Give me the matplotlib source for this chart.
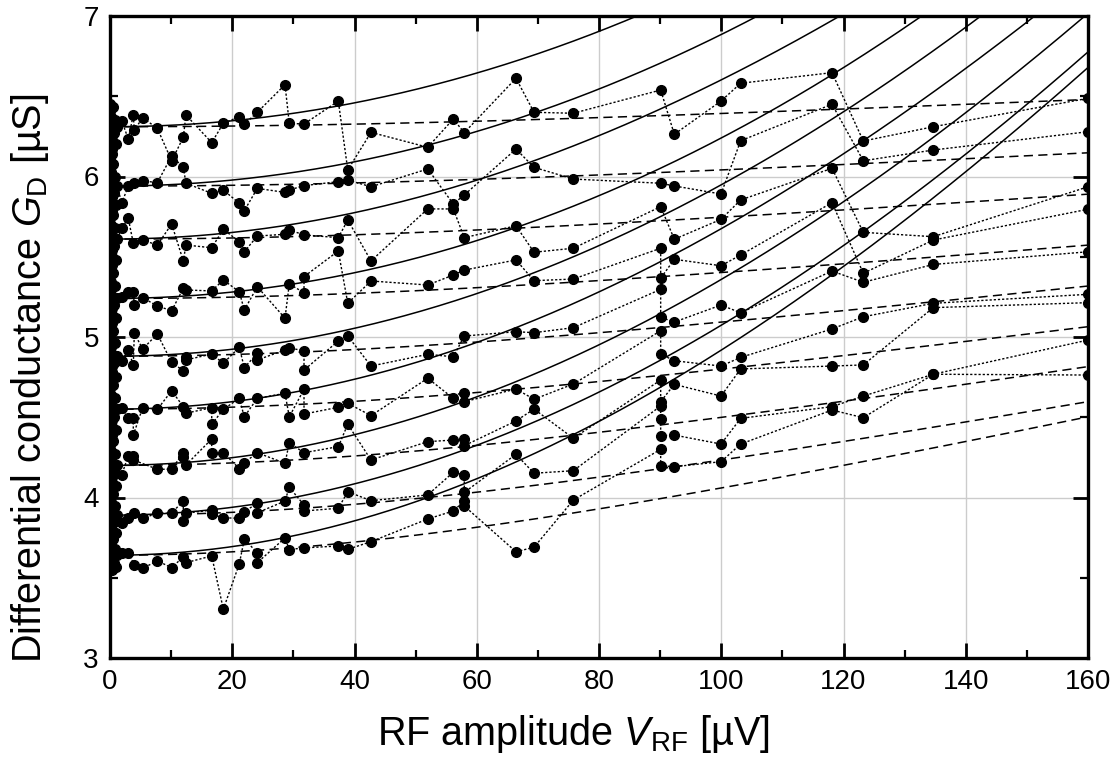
import numpy as np
import matplotlib
matplotlib.use("Agg")
import matplotlib.pyplot as plt
from matplotlib.ticker import MultipleLocator

plt.rcParams['font.family'] = ['Liberation Sans', 'DejaVu Sans']
plt.rcParams['mathtext.fontset'] = 'custom'
plt.rcParams['mathtext.rm'] = 'Liberation Sans'
plt.rcParams['mathtext.it'] = 'Liberation Sans:italic'

# ---------------- data ----------------
x_cluster = [0.0, 0.05, 0.1, 0.15, 0.2, 0.25, 0.3, 0.35, 0.4, 0.5, 0.6, 0.8, 1.0, 1.2]

s1_x = [1.91, 2.99, 3.81, 3.98, 5.35, 7.74, 10.09, 11.99, 12.43, 16.64, 18.54, 21.15, 21.97, 24.10, 28.63, 29.33, 31.74, 37.35, 38.9, 42.70, 51.98, 56.16, 57.96, 66.42, 69.37, 75.80, 90.09, 92.32, 99.96, 103.18, 118.12, 123.24, 134.69, 160]
s1_y = [6.348, 6.234, 6.383, 6.290, 6.366, 6.300, 6.098, 6.244, 6.383, 6.211, 6.331, 6.373, 6.325, 6.400, 6.572, 6.331, 6.327, 6.470, 6.041, 6.275, 6.182, 6.358, 6.273, 6.612, 6.400, 6.394, 6.539, 6.263, 6.470, 6.581, 6.647, 6.221, 6.310, 6.487]
s1_c = [6.45, 6.41, 6.37, 6.33, 6.29, 6.25, 6.21, 6.17, 6.14, 6.43, 6.27, 6.35, 6.20, 6.31]

s2_x = [1.91, 2.99, 3.98, 5.35, 7.74, 10.09, 11.99, 12.43, 16.64, 18.54, 21.15, 21.97, 24.10, 28.63, 29.33, 31.74, 37.35, 38.9, 42.70, 51.98, 56.16, 57.96, 66.42, 69.37, 75.80, 90.09, 92.32, 99.96, 103.18, 118.12, 123.24, 134.69, 160]
s2_y = [5.833, 5.941, 5.961, 5.974, 5.961, 6.128, 6.057, 5.958, 5.895, 5.916, 5.833, 5.787, 5.926, 5.901, 5.916, 5.943, 5.968, 5.978, 5.936, 6.047, 5.829, 5.885, 6.171, 6.057, 5.984, 5.958, 5.941, 5.891, 6.223, 6.450, 6.098, 6.165, 6.279]
s2_c = [6.11, 6.07, 6.03, 5.99, 5.95, 5.91, 5.87, 5.83, 5.79, 6.08, 5.90, 6.00, 5.82, 5.94]

s3_x = [1.91, 2.99, 3.81, 5.35, 7.74, 10.09, 11.99, 12.43, 16.64, 18.54, 21.15, 21.97, 24.10, 28.63, 29.33, 31.74, 37.35, 38.9, 42.70, 51.98, 56.16, 57.96, 66.42, 69.37, 75.80, 90.09, 92.32, 99.96, 103.18, 118.12, 123.24, 134.69, 160]
s3_y = [5.677, 5.740, 5.584, 5.604, 5.573, 5.704, 5.474, 5.573, 5.556, 5.671, 5.594, 5.531, 5.629, 5.640, 5.667, 5.636, 5.619, 5.729, 5.474, 5.798, 5.798, 5.619, 5.693, 5.528, 5.553, 5.812, 5.609, 5.733, 5.854, 6.051, 5.652, 5.625, 5.936]
s3_c = [5.78, 5.74, 5.70, 5.66, 5.62, 5.58, 5.54, 5.50, 5.45, 5.76, 5.57, 5.68, 5.48, 5.61]

s4_x = [1.91, 2.99, 3.81, 3.98, 5.35, 7.74, 10.09, 11.99, 12.43, 16.64, 18.54, 21.15, 21.97, 24.10, 28.63, 29.33, 31.74, 31.74, 37.35, 38.9, 42.70, 51.98, 56.16, 57.96, 66.42, 69.37, 75.80, 90.09, 90.09, 92.32, 99.96, 103.18, 118.12, 123.24, 134.69, 160]
s4_y = [5.251, 5.279, 5.279, 5.199, 5.245, 5.193, 5.164, 5.303, 5.293, 5.287, 5.355, 5.282, 5.168, 5.313, 5.117, 5.330, 5.276, 5.376, 5.536, 5.210, 5.349, 5.324, 5.386, 5.417, 5.480, 5.351, 5.361, 5.553, 5.366, 5.484, 5.444, 5.511, 5.837, 5.397, 5.604, 5.796]
s4_c = [5.42, 5.38, 5.34, 5.30, 5.26, 5.22, 5.18, 5.14, 5.09, 5.40, 5.20, 5.32, 5.12, 5.24]

s5_x = [1.91, 2.99, 3.81, 3.98, 5.35, 7.74, 10.09, 11.99, 12.43, 12.43, 16.64, 18.54, 21.15, 21.97, 24.10, 24.10, 28.63, 29.33, 31.74, 31.74, 37.35, 38.9, 42.70, 51.98, 56.16, 57.96, 66.42, 69.37, 75.80, 90.09, 90.09, 92.32, 99.96, 103.18, 118.12, 123.24, 134.69, 160]
s5_y = [4.850, 4.919, 4.826, 5.023, 4.925, 5.019, 4.842, 4.790, 4.877, 4.857, 4.894, 4.836, 4.936, 4.809, 4.898, 4.857, 4.919, 4.933, 4.913, 4.794, 4.975, 5.006, 4.819, 4.892, 4.877, 5.006, 5.033, 5.027, 5.058, 5.297, 5.123, 5.093, 5.199, 5.151, 5.411, 5.341, 5.452, 5.531]
s5_c = [5.06, 5.02, 4.98, 4.94, 4.90, 4.86, 4.82, 4.78, 4.73, 5.04, 4.84, 4.96, 4.75, 4.88]

s6_x = [1.91, 2.99, 3.81, 3.81, 5.35, 7.74, 10.09, 11.99, 12.43, 16.64, 16.64, 18.54, 21.15, 21.97, 24.10, 28.63, 29.33, 31.74, 31.74, 37.35, 38.9, 42.70, 51.98, 56.16, 57.96, 57.96, 66.42, 69.37, 75.80, 90.09, 90.09, 92.32, 99.96, 103.18, 118.12, 123.24, 134.69, 160]
s6_y = [4.560, 4.493, 4.493, 4.389, 4.560, 4.549, 4.665, 4.566, 4.525, 4.560, 4.456, 4.549, 4.618, 4.503, 4.618, 4.649, 4.503, 4.674, 4.520, 4.562, 4.587, 4.510, 4.743, 4.618, 4.649, 4.597, 4.676, 4.612, 4.707, 5.039, 4.894, 4.852, 4.819, 4.873, 5.050, 5.126, 5.210, 5.266]
s6_c = [4.72, 4.68, 4.64, 4.60, 4.56, 4.52, 4.48, 4.44, 4.39, 4.70, 4.50, 4.62, 4.42, 4.55]

s7_x = [1.91, 2.99, 3.81, 3.81, 7.74, 10.09, 11.99, 11.99, 12.43, 16.64, 16.64, 18.54, 21.15, 21.97, 24.10, 28.63, 29.33, 31.74, 37.35, 38.9, 42.70, 51.98, 56.16, 57.96, 57.96, 66.42, 69.37, 75.80, 90.09, 90.09, 92.32, 99.96, 103.18, 118.12, 123.24, 134.69, 160]
s7_y = [4.140, 4.260, 4.260, 4.234, 4.176, 4.176, 4.279, 4.254, 4.203, 4.364, 4.275, 4.279, 4.180, 4.217, 4.279, 4.213, 4.341, 4.279, 4.317, 4.456, 4.234, 4.348, 4.358, 4.364, 4.323, 4.477, 4.551, 4.369, 4.732, 4.597, 4.705, 4.632, 4.801, 4.819, 4.826, 5.183, 5.214]
s7_c = [4.37, 4.33, 4.29, 4.25, 4.21, 4.17, 4.13, 4.09, 4.05, 4.35, 4.15, 4.27, 4.07, 4.20]

s8_x = [1.91, 2.99, 3.98, 5.35, 7.74, 10.09, 11.99, 11.99, 12.43, 16.64, 16.64, 18.54, 21.15, 21.97, 24.10, 24.10, 28.63, 29.33, 31.74, 31.74, 37.35, 38.9, 42.70, 51.98, 56.16, 57.96, 57.96, 66.42, 69.37, 75.80, 90.09, 90.09, 90.09, 92.32, 99.96, 103.18, 118.12, 123.24, 134.69, 160]
s8_y = [3.843, 3.870, 3.905, 3.870, 3.902, 3.902, 3.980, 3.853, 3.902, 3.922, 3.895, 3.874, 3.870, 3.912, 3.964, 3.905, 3.978, 4.064, 3.953, 3.916, 3.933, 4.036, 3.980, 4.016, 4.157, 4.140, 4.032, 4.269, 4.151, 4.167, 4.570, 4.487, 4.385, 4.389, 4.333, 4.493, 4.566, 4.632, 4.768, 4.981]
s8_c = [4.03, 4.00, 3.97, 3.94, 3.90, 3.87, 3.84, 3.80, 3.77, 4.02, 3.85, 3.95, 3.78, 3.89]

s9_x = [1.91, 2.99, 3.98, 5.35, 7.74, 10.09, 11.99, 12.43, 16.64, 18.54, 21.15, 21.97, 24.10, 24.10, 28.63, 29.33, 31.74, 37.35, 38.9, 42.70, 51.98, 56.16, 57.96, 57.96, 66.42, 69.37, 75.80, 90.09, 90.09, 92.32, 99.96, 103.18, 118.12, 123.24, 134.69, 160]
s9_y = [3.652, 3.656, 3.579, 3.558, 3.606, 3.562, 3.631, 3.594, 3.636, 3.304, 3.586, 3.740, 3.656, 3.594, 3.748, 3.676, 3.686, 3.698, 3.677, 3.725, 3.866, 3.916, 3.978, 3.947, 3.662, 3.690, 3.984, 4.300, 4.198, 4.192, 4.223, 4.333, 4.545, 4.497, 4.768, 4.763]
s9_c = [3.75, 3.72, 3.69, 3.66, 3.63, 3.60, 3.58, 3.56, 3.55, 3.74, 3.59, 3.68, 3.57, 3.64]

# fit curves: G = G0 + A*(sqrt(1+(V/V0)^2)-1)
fit_g0 = [6.31, 5.94, 5.61, 5.24, 4.88, 4.55, 4.20, 3.89, 3.64]
solid_a = [186.0, 189.4, 10.97, 200.5, 22.4, 12.44, 15.04, 16.57, 10.83]
solid_v0 = [1000, 1000, 230, 1000, 320, 230, 250, 260, 200]
dash_a = [0.1375, 0.168, 0.2265, 0.269, 0.354, 0.416, 0.498, 0.572, 0.698]
dash_v0 = [80, 80, 80, 80, 80, 80, 80, 80, 80]

x_ticks = [0, 20, 40, 60, 80, 100, 120, 140, 160]
y_ticks = [3, 4, 5, 6, 7]

series = [(s1_x, s1_y, s1_c), (s2_x, s2_y, s2_c), (s3_x, s3_y, s3_c),
          (s4_x, s4_y, s4_c), (s5_x, s5_y, s5_c), (s6_x, s6_y, s6_c),
          (s7_x, s7_y, s7_c), (s8_x, s8_y, s8_c), (s9_x, s9_y, s9_c)]

# ---------------- figure ----------------
fig = plt.figure(figsize=(11.13, 7.70), dpi=100)
ax = fig.add_axes([110/1113, 1-658/770, (1088-110)/1113, (658-16)/770])

vv = np.linspace(0, 160, 400)
for g0, a, v0 in zip(fit_g0, solid_a, solid_v0):
    ax.plot(vv, g0 + a*(np.sqrt(1+(vv/v0)**2)-1), color='black', lw=1.1, zorder=3)
for g0, a, v0 in zip(fit_g0, dash_a, dash_v0):
    ax.plot(vv, g0 + a*(np.sqrt(1+(vv/v0)**2)-1), color='black', lw=1.1,
            linestyle=(0, (6, 3.5)), zorder=3)

for sx, sy, sc in series:
    xs = list(x_cluster) + list(sx)
    ys = list(sc) + list(sy)
    ax.plot(xs, ys, color='black', lw=1.0, linestyle=(0, (1.6, 1.4)),
            marker='o', ms=7.0, mfc='black', mec='black', zorder=4, clip_on=True)

ax.set_xlim(0, 160)
ax.set_ylim(3, 7)
ax.set_xticks(x_ticks)
ax.set_yticks(y_ticks)
ax.xaxis.set_minor_locator(MultipleLocator(10))
ax.yaxis.set_minor_locator(MultipleLocator(0.5))
ax.grid(True, which='major', color='#cccccc', lw=1.0, zorder=0)
ax.set_axisbelow(True)
ax.tick_params(which='both', direction='in', top=True, right=True,
               labelsize=20, width=2.0, pad=8)
ax.tick_params(which='major', length=11)
ax.tick_params(which='minor', length=6, width=1.6)
for sp in ax.spines.values():
    sp.set_linewidth(2.4)
    sp.set_zorder(6)

ax.set_xlabel(r'RF amplitude $V_{\mathrm{RF}}$ [µV]', fontsize=28.5)
ax.set_ylabel(r'Differential conductance $G_{\mathrm{D}}$ [µS]', fontsize=28.5)
ax.xaxis.set_label_coords(0.474, -0.086)
ax.yaxis.set_label_coords(-0.060, 0.435)

fig.savefig('out.png', dpi=100)
